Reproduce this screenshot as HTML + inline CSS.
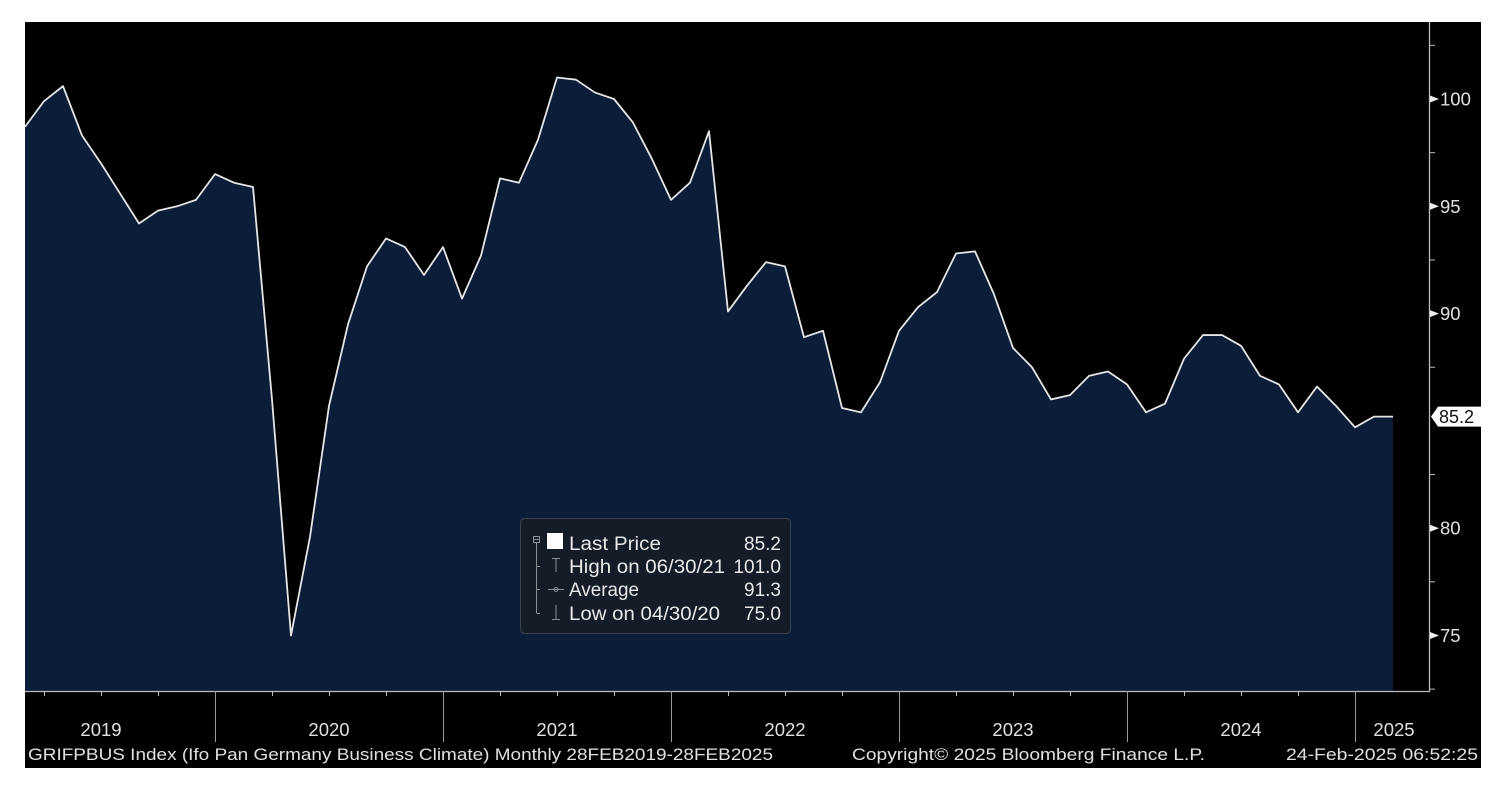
<!DOCTYPE html>
<html><head><meta charset="utf-8"><style>
html,body{margin:0;padding:0;background:#fff;}
svg{display:block;font-family:"Liberation Sans",sans-serif;}
</style></head><body>
<svg width="1508" height="796" viewBox="0 0 1508 796">
<rect x="25" y="22" width="1456" height="746" fill="#000"/>
<g id="plot"></g>
<g id="axes"></g>
<g>
 <rect x="520.5" y="518.5" width="270" height="115" rx="4" fill="#141c28" stroke="#3a4250"/>
 <g stroke="#8a8f96" fill="none" stroke-width="1">
  <rect x="533.5" y="536.5" width="6" height="6"/>
  <line x1="534" y1="539.5" x2="539" y2="539.5"/>
  <line x1="536.5" y1="543" x2="536.5" y2="613"/>
  <line x1="536.5" y1="566.5" x2="540" y2="566.5"/>
  <line x1="536.5" y1="589.5" x2="540" y2="589.5"/>
  <line x1="536.5" y1="613.5" x2="540" y2="613.5"/>
  <line x1="552" y1="558.5" x2="560" y2="558.5"/><line x1="556" y1="558" x2="556" y2="572"/>
  <line x1="548" y1="589.5" x2="564" y2="589.5"/><circle cx="556" cy="589.5" r="2"/>
  <line x1="556" y1="605" x2="556" y2="619"/><line x1="552" y1="619.5" x2="560" y2="619.5"/>
 </g>
 <rect x="547" y="533" width="16" height="16" fill="#fff"/>
 <g fill="#e8e8e8" font-size="19">
  <text x="569" y="550" textLength="92" lengthAdjust="spacingAndGlyphs">Last Price</text>
  <text x="781" y="550" text-anchor="end">85.2</text>
  <text x="569" y="573" textLength="156" lengthAdjust="spacingAndGlyphs">High on 06/30/21</text>
  <text x="781" y="573" text-anchor="end">101.0</text>
  <text x="569" y="596" textLength="70" lengthAdjust="spacingAndGlyphs">Average</text>
  <text x="781" y="596" text-anchor="end">91.3</text>
  <text x="569" y="620" textLength="151" lengthAdjust="spacingAndGlyphs">Low on 04/30/20</text>
  <text x="781" y="620" text-anchor="end">75.0</text>
 </g>
</g>
<g fill="#e0e0e0" font-size="17">
 <text x="28" y="760" textLength="745" lengthAdjust="spacingAndGlyphs">GRIFPBUS Index (Ifo Pan Germany Business Climate)  Monthly 28FEB2019-28FEB2025</text>
 <text x="852" y="760" textLength="353" lengthAdjust="spacingAndGlyphs">Copyright© 2025 Bloomberg Finance L.P.</text>
 <text x="1286" y="760" textLength="192" lengthAdjust="spacingAndGlyphs">24-Feb-2025 06:52:25</text>
</g>
</svg>
<script>
const values = [98.7,99.9,100.6,98.3,97.0,95.6,94.2,94.8,95.0,95.3,96.5,96.1,95.9,86.0,75.0,79.6,85.7,89.5,92.2,93.5,93.1,91.8,93.1,90.7,92.7,96.3,96.1,98.1,101.0,100.9,100.3,100.0,98.9,97.2,95.3,96.1,98.5,90.1,91.3,92.4,92.2,88.9,89.2,85.6,85.4,86.8,89.2,90.3,91.0,92.8,92.9,90.9,88.4,87.5,86.0,86.2,87.1,87.3,86.7,85.4,85.8,87.9,89.0,89.0,88.5,87.1,86.7,85.4,86.6,85.7,84.7,85.2,85.2];
const yTicks = [75,80,85,90,95,100];
const yMinor = [72.5,77.5,82.5,87.5,92.5,97.5,102.5];
const years = ["2019","2020","2021","2022","2023","2024","2025"];
const lastLabel = "85.2";
const NS="http://www.w3.org/2000/svg";
const X0=25, DX=19, Y100=99, PXU=21.46, BOT=691, AX=1429;
const xs=i=>X0+DX*i;
const ys=v=>Y100+(100-v)*PXU;
function mk(t,a,p){const e=document.createElementNS(NS,t);for(const k in a)e.setAttribute(k,a[k]);p.appendChild(e);return e;}
const plot=document.getElementById('plot'), axes=document.getElementById('axes');
let pts=values.map((v,i)=>xs(i)+','+ys(v)).join(' ');
const area=mk('polygon',{points:xs(0)+','+BOT+' '+pts+' '+xs(values.length-1)+','+BOT,fill:'#0c1d39'},plot);


const line=mk('polyline',{points:pts,fill:'none',stroke:'#e6e6e6','stroke-width':1.8,'stroke-linejoin':'round'},plot);


mk('line',{x1:AX+0.5,y1:22,x2:AX+0.5,y2:BOT,stroke:'#bbb','stroke-width':1.3},axes);
mk('line',{x1:25,y1:BOT+0.5,x2:AX+1,y2:BOT+0.5,stroke:'#bbb','stroke-width':1.3},axes);
yTicks.forEach(v=>{
 const y=ys(v);
 if(Math.abs(v-values[values.length-1])<1)return;
 mk('polygon',{points:(AX+1)+','+(y-3.5)+' '+(AX+10)+','+y+' '+(AX+1)+','+(y+3.5),fill:'#eee'},axes);
 const t=mk('text',{x:AX+11,y:y+6.5,fill:'#e0e0e0','font-size':18.5},axes);t.textContent=v;
 
 
});
yMinor.forEach(v=>{const y=ys(v);if(y>22&&y<BOT)mk('line',{x1:AX,y1:y,x2:AX+6,y2:y,stroke:'#bbb'},axes);});
const ly=ys(values[values.length-1]);
const tag=mk('polygon',{points:(AX+2)+','+ly+' '+(AX+9)+','+(ly-10)+' '+1481+','+(ly-10)+' '+1481+','+(ly+10)+' '+(AX+9)+','+(ly+10),fill:'#fff'},axes);


const lt=mk('text',{x:AX+10,y:ly+6.5,fill:'#111','font-size':18},axes);lt.textContent=lastLabel;
for(let i=0;i<values.length;i++){
 const mon=(i+2)%12;
 const x=xs(i)+0.5;
 if(mon===0) mk('line',{x1:x,y1:BOT,x2:x,y2:742,stroke:'#999'},axes);
 else if(mon%3===0) mk('line',{x1:x,y1:BOT,x2:x,y2:BOT+5,stroke:'#bbb'},axes);
}
years.forEach((yr,k)=>{
 let cx=(xs(k*12-2)+xs(k*12+10))/2;
 if(k===years.length-1)cx=(xs(k*12-2)+AX)/2+2;
 const t=mk('text',{x:cx,y:736,fill:'#e0e0e0','font-size':18.5,'text-anchor':'middle'},axes);t.textContent=yr;
 
 
});
</script>
</body></html>
